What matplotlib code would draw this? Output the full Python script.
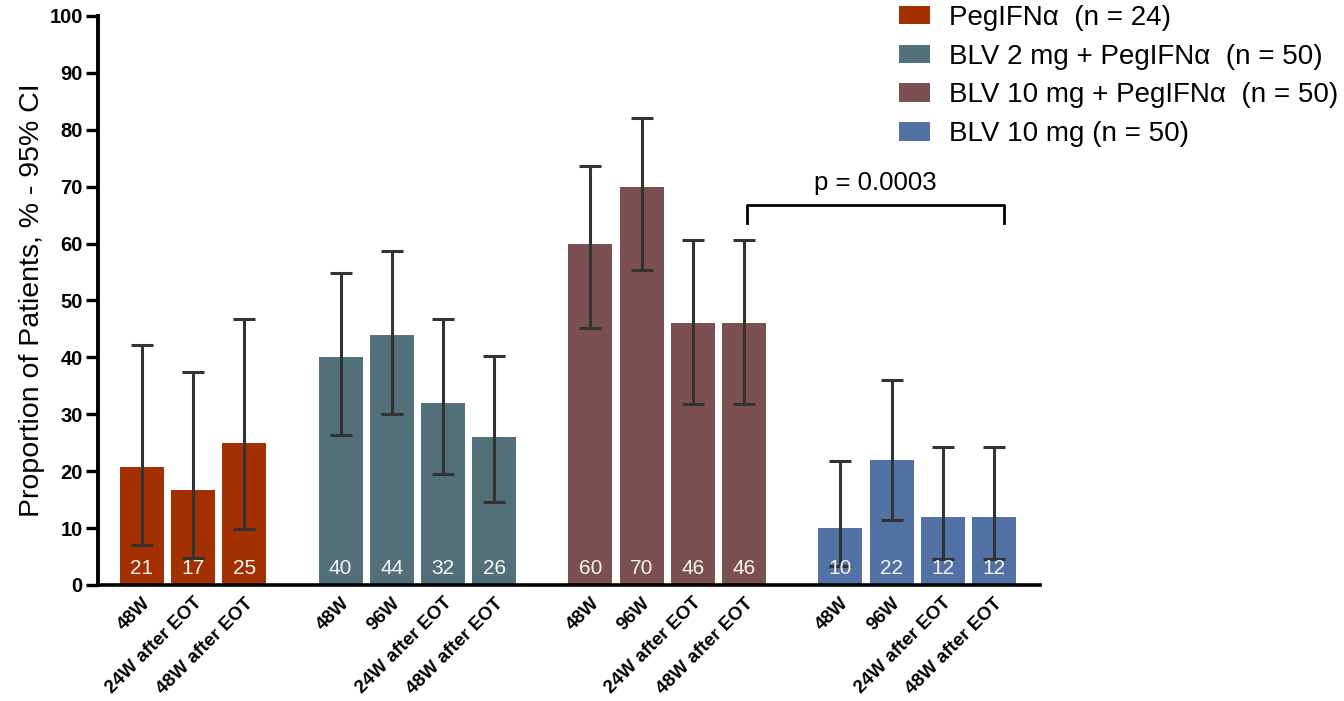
import matplotlib
matplotlib.use('Agg')
import matplotlib.pyplot as plt
from matplotlib.patches import Patch

plt.rcParams['font.family'] = ['Liberation Sans', 'DejaVu Sans']

# treatment arms
arms = ['PegIFNα  (n = 24)', 'BLV 2 mg + PegIFNα  (n = 50)',
        'BLV 10 mg + PegIFNα  (n = 50)', 'BLV 10 mg (n = 50)']
colors = ['#A33000', '#527079', '#7B5052', '#5272A6']

timepoints = [
    ['48W', '24W after EOT', '48W after EOT'],
    ['48W', '96W', '24W after EOT', '48W after EOT'],
    ['48W', '96W', '24W after EOT', '48W after EOT'],
    ['48W', '96W', '24W after EOT', '48W after EOT'],
]
values = [
    [20.8, 16.7, 25.0],
    [40, 44, 32, 26],
    [60, 70, 46, 46],
    [10, 22, 12, 12],
]
bar_labels = [
    [21, 17, 25],
    [40, 44, 32, 26],
    [60, 70, 46, 46],
    [10, 22, 12, 12],
]
ci_low = [
    [7.1, 4.7, 9.8],
    [26.4, 30.0, 19.5, 14.6],
    [45.2, 55.4, 31.8, 31.8],
    [3.3, 11.5, 4.5, 4.5],
]
ci_high = [
    [42.2, 37.4, 46.7],
    [54.8, 58.7, 46.7, 40.3],
    [73.6, 82.1, 60.7, 60.7],
    [21.8, 36.0, 24.3, 24.3],
]
p_text = 'p = 0.0003'

fig = plt.figure(figsize=(13.44, 7.01), dpi=100)
ax = fig.add_axes([0.0729, 0.1655, 0.7009, 0.8117])

gap = 0.88
width = 0.86
start = 0
all_x = []
all_names = []
positions = []
for g in range(len(arms)):
    xs = [start + i for i in range(len(values[g]))]
    positions.append(xs)
    err = [[v - lo for v, lo in zip(values[g], ci_low[g])],
           [hi - v for v, hi in zip(values[g], ci_high[g])]]
    ax.bar(xs, values[g], width=width, color=colors[g], zorder=1)
    ax.errorbar(xs, values[g], yerr=err, fmt='none', ecolor='#333333',
                elinewidth=2.2, capsize=8, capthick=2.2, zorder=2)
    for x, lab in zip(xs, bar_labels[g]):
        ax.text(x, 1.2, str(lab), ha='center', va='bottom', color='#f4f4f4',
                fontsize=15, zorder=3)
    all_x += xs
    all_names += timepoints[g]
    start = xs[-1] + 1 + gap

# significance bracket between BLV 10 mg + PegIFNa and BLV 10 mg at 48W after EOT
bx1 = positions[2][-1] + 0.06
bx2 = positions[3][-1] + 0.2
ax.plot([bx1, bx1, bx2, bx2], [63.7, 66.7, 66.7, 63.7], color='black', lw=2,
        solid_joinstyle='round', zorder=3)
ax.text((bx1 + bx2) / 2, 69.4, p_text, ha='center', va='baseline', fontsize=18.5)

ax.set_xlim(-0.86, 17.54)
ax.set_ylim(0, 100)
ax.set_yticks(range(0, 101, 10))
ax.set_xticks(all_x)
ax.set_xticklabels(all_names, rotation=45, ha='right', rotation_mode='anchor',
                   fontweight='bold', fontsize=13.5)
ax.tick_params(axis='x', length=0, pad=7)
ax.tick_params(axis='y', length=9, width=2.4, labelsize=14.5, pad=2)
for t in ax.get_yticklabels():
    t.set_fontweight('bold')
ax.spines['top'].set_visible(False)
ax.spines['right'].set_visible(False)
ax.spines['left'].set_linewidth(2.8)
ax.spines['bottom'].set_linewidth(2.6)
ax.set_ylabel('Proportion of Patients, % - 95% CI', fontsize=20.5, labelpad=3)

handles = [Patch(facecolor=c) for c in colors]
fig.legend(handles, arms, loc='upper left', bbox_to_anchor=(0.669, 0.993),
           frameon=False, fontsize=20, handlelength=1.115, handleheight=0.65,
           handletextpad=0.68, labelspacing=0.457, borderpad=0, borderaxespad=0)

plt.savefig('out.png', dpi=100)
